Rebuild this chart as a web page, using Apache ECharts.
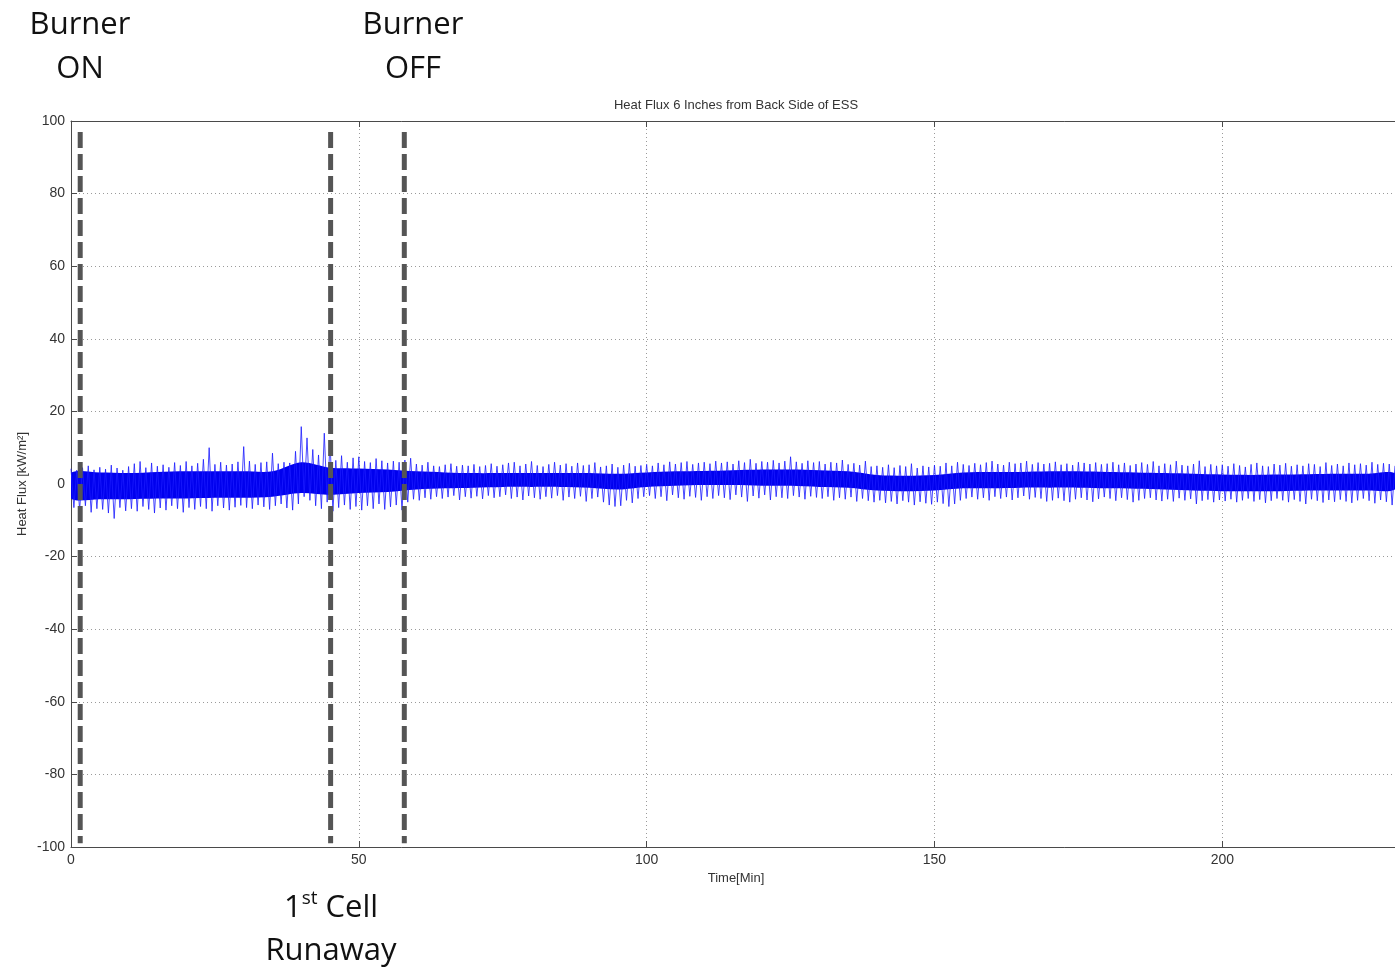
<!DOCTYPE html>
<html>
<head>
<meta charset="utf-8">
<script src="https://cdn.jsdelivr.net/npm/echarts@6/dist/echarts.min.js"></script>
<style>html,body{margin:0;padding:0;background:#fff;}#c{width:1395px;height:969px;}</style>
</head>
<body>
<div id="c"></div>
<script>
// ---- data ----
const xTicks = [0, 50, 100, 150, 200];
const yTicks = [-100, -80, -60, -40, -20, 0, 20, 40, 60, 80, 100];
// event markers (minutes)
const eventTimes = [1.6, 45.1, 57.9];
const eventTop = 97, eventBottom = -99;
// per-minute upper spike envelope (minute 0..230)
const hiSpike = [
 4.2,3.8,4.5,5.0,3.9,4.6,4.1,5.2,4.4,3.8,
 4.8,5.6,6.2,4.5,5.8,4.9,5.3,4.6,5.9,5.1,
 6.2,5.0,5.7,6.8,10.0,5.4,6.0,5.2,5.5,6.1,
 10.3,6.3,5.4,5.9,6.1,8.5,5.6,6.0,5.8,9.0,
 15.8,12.7,9.5,8.0,14.0,11.5,6.5,7.8,6.0,7.2,
 7.5,6.2,5.9,7.0,6.4,5.8,6.3,6.0,6.6,7.1,
 5.5,5.2,6.0,5.0,4.8,5.3,5.6,4.9,5.2,5.0,
 5.4,4.8,5.1,5.6,4.9,5.3,5.8,6.0,5.0,5.5,
 6.2,5.1,4.8,5.4,6.0,5.2,5.6,4.9,5.8,5.1,
 5.3,5.9,4.7,5.0,5.5,4.6,5.2,5.7,4.9,5.1,
 5.4,5.0,5.8,5.3,6.1,5.5,5.9,6.2,5.4,5.8,
 6.0,5.6,6.3,5.8,6.1,5.5,6.4,5.9,6.8,5.7,
 6.2,6.0,6.5,5.8,6.3,7.5,6.1,5.7,6.4,5.9,
 6.2,5.5,6.0,5.8,6.6,5.4,5.7,5.2,6.3,4.8,
 5.0,4.6,5.3,4.5,5.1,4.8,5.6,4.4,5.0,4.7,
 5.2,4.9,5.8,5.0,6.0,5.4,5.1,5.7,5.3,5.9,
 6.3,5.5,5.2,6.0,5.6,5.8,6.3,5.4,5.9,5.5,
 5.7,6.1,5.3,5.6,5.2,6.0,5.8,5.5,5.9,5.4,
 5.6,6.0,5.3,5.8,5.1,5.5,5.9,5.4,6.2,5.0,
 5.6,5.3,6.3,5.2,5.0,5.5,6.4,4.8,5.4,5.0,
 5.3,4.9,5.6,5.1,4.7,5.4,5.8,5.0,4.8,5.5,
 5.2,5.7,4.9,5.3,5.0,5.6,5.4,4.8,5.9,5.1,
 5.5,5.0,5.8,5.3,5.6,5.2,6.0,5.4,5.7,5.5,
 5.0
];
// per-minute lower spike envelope (minute 0..230)
const loSpike = [
 -6.5,-7.2,-6.0,-7.8,-6.8,-7.0,-8.0,-9.5,-6.5,-7.4,
 -6.8,-7.5,-6.2,-7.0,-8.0,-6.6,-7.2,-6.0,-6.8,-7.8,
 -6.5,-7.0,-6.2,-6.8,-7.5,-6.0,-6.6,-7.2,-6.4,-5.9,
 -6.5,-6.8,-5.8,-6.3,-7.0,-6.0,-5.5,-6.6,-7.2,-5.5,
 -3.5,-4.5,-6.0,-6.8,-5.0,-7.5,-6.5,-5.8,-7.0,-6.2,
 -7.2,-6.0,-6.8,-5.5,-7.0,-6.3,-5.8,-7.2,-5.0,-4.2,
 -4.5,-3.8,-4.2,-3.5,-4.0,-3.6,-3.2,-4.4,-3.5,-3.9,
 -3.4,-4.1,-3.2,-3.8,-3.5,-3.0,-4.0,-3.6,-4.4,-3.3,
 -3.8,-4.2,-3.5,-3.9,-3.2,-4.5,-3.6,-4.0,-3.4,-4.8,
 -4.0,-3.6,-5.0,-5.8,-6.2,-6.0,-4.5,-5.2,-4.0,-3.5,
 -3.2,-4.0,-3.5,-4.6,-3.0,-3.8,-4.2,-3.4,-3.7,-4.5,
 -3.5,-4.0,-3.2,-3.8,-4.3,-3.0,-3.6,-4.8,-3.3,-3.9,
 -3.0,-4.4,-3.5,-3.8,-4.0,-3.2,-3.6,-4.2,-3.4,-3.7,
 -4.0,-3.5,-4.5,-3.8,-4.2,-3.6,-4.8,-4.0,-4.6,-5.0,
 -4.5,-5.2,-4.8,-5.5,-4.6,-5.0,-5.8,-4.9,-5.3,-5.6,
 -5.0,-5.4,-6.2,-5.5,-4.5,-4.0,-3.6,-4.2,-3.8,-4.5,
 -3.5,-4.0,-3.6,-4.4,-3.8,-3.3,-4.2,-3.7,-4.0,-4.8,
 -4.5,-3.9,-4.6,-5.0,-4.2,-3.8,-4.4,-4.9,-4.1,-3.6,
 -4.0,-4.6,-3.8,-4.3,-5.0,-4.5,-4.0,-3.8,-4.4,-4.7,
 -4.2,-4.8,-3.9,-4.5,-4.1,-5.5,-4.6,-4.3,-5.0,-4.4,
 -4.7,-4.2,-5.0,-4.5,-4.0,-4.8,-4.3,-5.2,-4.6,-4.0,
 -4.5,-5.0,-4.3,-4.8,-5.5,-4.2,-4.6,-5.1,-4.4,-4.9,
 -4.3,-4.8,-5.2,-4.5,-4.0,-4.6,-5.3,-4.4,-4.9,-5.8,
 -4.5
];
// dense core of the trace, every 5 minutes (0..230)
const coreTime = [0,5,10,15,20,25,30,35,40,45,50,55,60,65,70,75,80,85,90,95,100,105,110,115,120,125,130,135,140,145,150,155,160,165,170,175,180,185,190,195,200,205,210,215,220,225,230];
const coreHi = [3,3.2,3,3.3,3.5,3.5,3.5,3.5,6,4.5,4.3,4,3.5,3.2,3,3,3,3,3,2.8,3.2,3.5,3.6,3.8,4,4,3.8,3.5,2.5,2.3,2.5,3.2,3.3,3.3,3.5,3.5,3.3,3.2,3,2.8,2.6,2.5,2.6,2.7,2.8,2.8,3];
const coreLo = [-4,-4.2,-4.2,-4,-4,-3.8,-3.8,-3.5,-2.5,-3,-2.5,-2.2,-1.5,-1.2,-1,-0.8,-0.8,-0.8,-1,-1.5,-0.8,-0.5,-0.3,-0.3,-0.5,-0.5,-0.8,-1,-1.8,-2,-1.8,-1.2,-1.2,-1,-1,-1,-1.2,-1.3,-1.5,-1.8,-2,-2,-2,-1.8,-1.8,-1.8,-1.5];

// ---- build series data from the arrays ----
const traceData = [];
for (let i = 0; i < hiSpike.length; i++) {
  traceData.push([i, hiSpike[i]]);
  if (i + 0.5 <= 230) traceData.push([i + 0.5, loSpike[i]]);
}

const chart = echarts.init(document.getElementById('c'), null, {renderer: 'canvas'});
const axisColor = '#4a4a4a';
const labelFont = {color: '#333', fontSize: 14, fontFamily: 'Liberation Sans, Arial, sans-serif'};
const annoFont = '31px "Open Sans", sans-serif';

const eventSeries = eventTimes.map(t => ({
  type: 'line', xAxisIndex: 0, yAxisIndex: 0,
  data: [[t, eventTop], [t, eventBottom]],
  showSymbol: false, silent: true, animation: false, z: 5,
  lineStyle: {color: '#555', width: 5, type: [16, 6], cap: 'butt'}
}));

const option = {
  animation: false,
  backgroundColor: '#fff',
  grid: {left: 71, top: 121, right: 0, bottom: 122, containLabel: false},
  xAxis: [{
    type: 'value', min: 0, max: 230, interval: 50,
    axisLine: {show: true, onZero: false, lineStyle: {color: axisColor, width: 1}},
    axisTick: {show: true, inside: true, length: 6, lineStyle: {color: axisColor}},
    axisLabel: Object.assign({margin: 6, showMaxLabel: false}, labelFont),
    splitLine: {show: true, lineStyle: {color: '#9a9a9a', type: [1, 3], width: 1}}
  }, {
    type: 'value', min: 0, max: 230, interval: 50, position: 'top',
    axisLine: {show: true, onZero: false, lineStyle: {color: axisColor, width: 1}},
    axisTick: {show: true, inside: true, length: 6, lineStyle: {color: axisColor}},
    axisLabel: {show: false}, splitLine: {show: false}
  }],
  yAxis: [{
    type: 'value', min: -100, max: 100, interval: 20,
    axisLine: {show: true, onZero: false, lineStyle: {color: axisColor, width: 1}},
    axisTick: {show: true, inside: true, length: 6, lineStyle: {color: axisColor}},
    axisLabel: Object.assign({margin: 6}, labelFont),
    splitLine: {show: true, lineStyle: {color: '#9a9a9a', type: [1, 3], width: 1}}
  }],
  series: [
    {
      type: 'custom', xAxisIndex: 0, yAxisIndex: 0, data: [0], silent: true, z: 2,
      clip: true,
      renderItem: function (params, api) {
        const pts = [];
        for (let i = 0; i < coreTime.length; i++) pts.push(api.coord([coreTime[i], coreHi[i]]));
        for (let i = coreTime.length - 1; i >= 0; i--) pts.push(api.coord([coreTime[i], coreLo[i]]));
        return {type: 'polygon', shape: {points: pts, smooth: 0.3}, style: {fill: '#0000ee'}};
      }
    },
    {
      type: 'line', xAxisIndex: 0, yAxisIndex: 0, data: traceData,
      showSymbol: false, sampling: null, silent: true, z: 3,
      lineStyle: {color: '#1a1aff', width: 1, opacity: 0.8}
    }
  ].concat(eventSeries),
  graphic: [
    {type: 'text', x: 80, y: 25, style: {text: 'Burner', font: annoFont, fill: '#111', textAlign: 'center', textVerticalAlign: 'middle'}},
    {type: 'text', x: 80, y: 69, style: {text: 'ON', font: annoFont, fill: '#111', textAlign: 'center', textVerticalAlign: 'middle'}},
    {type: 'text', x: 413, y: 25, style: {text: 'Burner', font: annoFont, fill: '#111', textAlign: 'center', textVerticalAlign: 'middle'}},
    {type: 'text', x: 413, y: 69, style: {text: 'OFF', font: annoFont, fill: '#111', textAlign: 'center', textVerticalAlign: 'middle'}},
    {type: 'text', x: 331, y: 908, style: {
      text: '{a|1}{b|st}{a| Cell}', textAlign: 'center', textVerticalAlign: 'middle',
      rich: {
        a: {fontSize: 31, fontFamily: 'Open Sans', fill: '#111', color: '#111', lineHeight: 38},
        b: {fontSize: 19, fontFamily: 'Open Sans', fill: '#111', color: '#111', verticalAlign: 'top', lineHeight: 22}
      }
    }},
    {type: 'text', x: 331, y: 951, style: {text: 'Runaway', font: annoFont, fill: '#111', textAlign: 'center', textVerticalAlign: 'middle'}},
    {type: 'text', x: 736, y: 105, style: {text: 'Heat Flux 6 Inches from Back Side of ESS', font: '13px "Liberation Sans", Arial, sans-serif', fill: '#333', textAlign: 'center', textVerticalAlign: 'middle'}},
    {type: 'text', x: 736, y: 878, style: {text: 'Time[Min]', font: '13px "Liberation Sans", Arial, sans-serif', fill: '#333', textAlign: 'center', textVerticalAlign: 'middle'}},
    {type: 'text', x: 22, y: 484, rotation: Math.PI / 2, style: {text: 'Heat Flux [kW/m²]', font: '13px "Liberation Sans", Arial, sans-serif', fill: '#333', textAlign: 'center', textVerticalAlign: 'middle'}}
  ]
};
chart.setOption(option);
</script>
</body>
</html>
